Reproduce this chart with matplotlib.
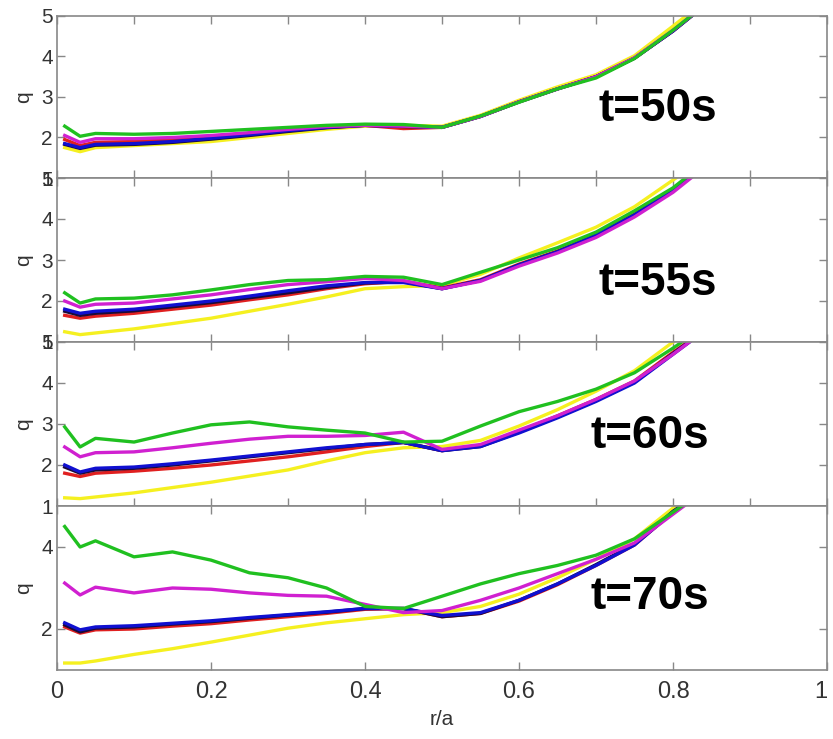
import matplotlib
matplotlib.use('Agg')
import matplotlib.pyplot as plt

plt.rcParams['font.family'] = ['Liberation Sans', 'DejaVu Sans']

# radial grid (r/a) shared by every profile
r = [0.01, 0.03, 0.05, 0.1, 0.15, 0.2, 0.25, 0.3, 0.35, 0.4, 0.45, 0.5,
     0.55, 0.6, 0.65, 0.7, 0.75, 0.8, 0.85]

times = ['t=50s', 't=55s', 't=60s', 't=70s']

# q profiles, one list per colour and panel
yellow = [
    [1.75, 1.65, 1.75, 1.8, 1.85, 1.9, 2.0, 2.1, 2.2, 2.28, 2.3, 2.28, 2.55, 2.92, 3.25, 3.55, 4.02, 4.75, 5.5],
    [1.25, 1.18, 1.22, 1.32, 1.45, 1.58, 1.75, 1.92, 2.1, 2.3, 2.35, 2.38, 2.65, 3.05, 3.42, 3.8, 4.3, 4.95, 5.6],
    [1.2, 1.18, 1.22, 1.32, 1.45, 1.58, 1.73, 1.88, 2.1, 2.3, 2.42, 2.45, 2.6, 2.95, 3.35, 3.8, 4.3, 5.0, 5.6],
    [1.17, 1.17, 1.22, 1.38, 1.52, 1.68, 1.85, 2.02, 2.15, 2.25, 2.35, 2.4, 2.55, 2.85, 3.25, 3.7, 4.2, 4.95, 5.6],
]
red = [
    [1.95, 1.8, 1.88, 1.9, 1.95, 2.0, 2.08, 2.17, 2.25, 2.3, 2.22, 2.25, 2.52, 2.88, 3.2, 3.5, 3.96, 4.63, 5.4],
    [1.65, 1.58, 1.63, 1.7, 1.8, 1.9, 2.03, 2.15, 2.3, 2.42, 2.48, 2.32, 2.52, 2.9, 3.22, 3.62, 4.12, 4.72, 5.4],
    [1.8, 1.72, 1.8, 1.85, 1.92, 2.0, 2.1, 2.2, 2.32, 2.45, 2.55, 2.35, 2.48, 2.82, 3.2, 3.6, 4.05, 4.75, 5.4],
    [2.05, 1.9, 1.98, 2.0, 2.07, 2.13, 2.22, 2.3, 2.38, 2.48, 2.5, 2.3, 2.38, 2.68, 3.08, 3.55, 4.05, 4.85, 5.5],
]
black = [
    [1.83, 1.73, 1.81, 1.83, 1.88, 1.96, 2.05, 2.15, 2.24, 2.3, 2.27, 2.25, 2.52, 2.88, 3.2, 3.5, 3.96, 4.63, 5.4],
    [1.75, 1.65, 1.7, 1.76, 1.86, 1.96, 2.08, 2.2, 2.33, 2.44, 2.47, 2.3, 2.5, 2.88, 3.2, 3.6, 4.1, 4.7, 5.4],
    [1.95, 1.8, 1.88, 1.92, 2.0, 2.1, 2.2, 2.3, 2.4, 2.5, 2.55, 2.35, 2.45, 2.8, 3.17, 3.57, 4.02, 4.72, 5.4],
    [2.1, 1.93, 2.02, 2.05, 2.12, 2.18, 2.26, 2.34, 2.41, 2.5, 2.5, 2.3, 2.38, 2.7, 3.1, 3.57, 4.07, 4.87, 5.5],
]
blue = [
    [1.85, 1.75, 1.83, 1.85, 1.9, 1.98, 2.07, 2.17, 2.25, 2.3, 2.28, 2.25, 2.52, 2.88, 3.2, 3.5, 3.96, 4.63, 5.4],
    [1.8, 1.7, 1.75, 1.8, 1.9, 2.0, 2.12, 2.25, 2.37, 2.45, 2.45, 2.3, 2.5, 2.88, 3.2, 3.6, 4.1, 4.7, 5.4],
    [2.0, 1.83, 1.92, 1.95, 2.03, 2.12, 2.22, 2.32, 2.42, 2.5, 2.55, 2.35, 2.45, 2.78, 3.15, 3.55, 4.0, 4.7, 5.4],
    [2.15, 1.98, 2.05, 2.08, 2.14, 2.2, 2.28, 2.35, 2.42, 2.5, 2.5, 2.33, 2.4, 2.7, 3.1, 3.55, 4.05, 4.85, 5.5],
]
magenta = [
    [2.05, 1.88, 1.97, 1.97, 2.0, 2.05, 2.12, 2.2, 2.27, 2.3, 2.28, 2.25, 2.52, 2.88, 3.2, 3.5, 3.97, 4.65, 5.4],
    [2.0, 1.85, 1.92, 1.95, 2.05, 2.15, 2.28, 2.4, 2.47, 2.55, 2.5, 2.3, 2.48, 2.85, 3.17, 3.55, 4.05, 4.65, 5.4],
    [2.44, 2.2, 2.3, 2.32, 2.42, 2.53, 2.63, 2.7, 2.7, 2.72, 2.8, 2.38, 2.5, 2.85, 3.2, 3.6, 4.05, 4.7, 5.4],
    [3.12, 2.83, 3.02, 2.88, 3.0, 2.97, 2.88, 2.82, 2.8, 2.6, 2.4, 2.45, 2.7, 3.0, 3.35, 3.7, 4.1, 4.8, 5.5],
]
green = [
    [2.28, 2.03, 2.1, 2.08, 2.1, 2.15, 2.2, 2.25, 2.3, 2.33, 2.32, 2.25, 2.53, 2.87, 3.2, 3.47, 3.95, 4.65, 5.4],
    [2.2, 1.95, 2.05, 2.07, 2.15, 2.27, 2.4, 2.5, 2.52, 2.6, 2.58, 2.4, 2.7, 3.0, 3.3, 3.68, 4.2, 4.76, 5.5],
    [2.93, 2.44, 2.65, 2.56, 2.78, 2.98, 3.05, 2.93, 2.85, 2.78, 2.56, 2.58, 2.95, 3.3, 3.55, 3.85, 4.25, 4.85, 5.5],
    [4.5, 4.0, 4.15, 3.76, 3.88, 3.68, 3.37, 3.25, 3.0, 2.55, 2.5, 2.8, 3.1, 3.35, 3.55, 3.8, 4.2, 4.85, 5.5],
]

series = [(yellow, '#f5f020'), (red, '#e02020'), (black, '#1a0a3a'),
          (blue, '#1010d0'), (magenta, '#d020d0'), (green, '#20c020')]

label_pos = [(0.78, 2.7), (0.78, 2.44), (0.77, 2.7), (0.77, 2.78)]

fig = plt.figure(figsize=(8.33, 7.39), dpi=100)
W, H = 833, 739
left, right = 57, 827
edges = [16, 178, 342, 506, 670]

for i in range(4):
    top, bot = edges[i], edges[i + 1]
    ax = fig.add_axes([left / W, 1 - bot / H, (right - left) / W, (bot - top) / H])
    for data, col in series:
        ax.plot(r, data[i], color=col, linewidth=2.4, solid_joinstyle='round')
    ax.set_xlim(0, 1)
    ax.set_ylim(1, 5)
    ax.text(label_pos[i][0], label_pos[i][1], times[i], fontsize=33, fontweight='bold',
            ha='center', va='center', color='black')
    for s in ax.spines.values():
        s.set_color('#888888')
        s.set_linewidth(1.2)
    ax.tick_params(direction='in', top=True, right=True, colors='#888888',
                   labelcolor='#333333', length=6, width=1)
    ax.tick_params(axis='y', labelsize=15, pad=3)
    ax.tick_params(axis='x', labelsize=17, pad=8)
    ax.set_ylabel('q', fontsize=15, color='#333333', labelpad=6)
    if i < 3:
        ax.set_xticks([0, 0.1, 0.2, 0.3, 0.4, 0.5, 0.6, 0.7, 0.8, 0.9, 1.0])
        ax.set_xticklabels([])
        ax.set_yticks([1, 2, 3, 4, 5])
    else:
        ax.set_xticks([0, 0.2, 0.4, 0.6, 0.8, 1.0])
        ax.set_xticklabels(['0', '0.2', '0.4', '0.6', '0.8', '1'])
        ax.get_xticklabels()[-1].set_horizontalalignment('right')
        ax.set_yticks([2, 4])
        ax.set_xlabel('r/a', fontsize=15, color='#333333', labelpad=5)

fig.savefig('out.png', dpi=100)
